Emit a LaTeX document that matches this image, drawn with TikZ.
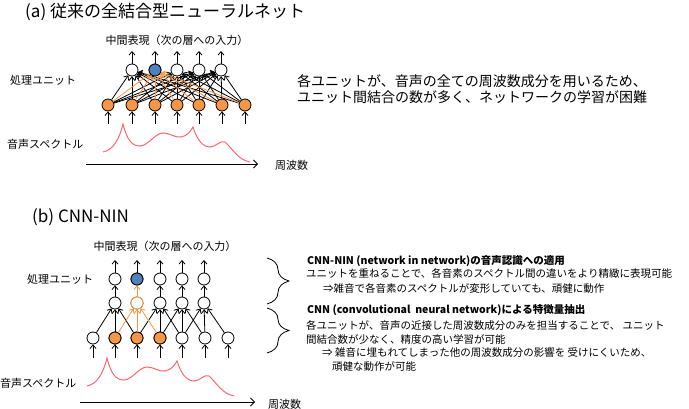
\documentclass[tikz,border=0pt]{standalone}
\usepackage{fontspec}
\setmainfont{Noto Sans CJK JP}
\usetikzlibrary{arrows.meta,decorations.pathreplacing}

\definecolor{unitorange}{HTML}{F79646}
\definecolor{unitblue}{HTML}{4F81BD}
\definecolor{specred}{HTML}{FF6670}

\tikzset{
    unit/.style={circle,draw=black,fill=white,line width=0.8pt,minimum size=12pt,inner sep=0pt},
    inunit/.style={unit,fill=unitorange},
    outunit/.style={unit,fill=unitblue},
    link/.style={-{Straight Barb[length=3.5pt,width=6pt]},line width=0.8pt},
    hot/.style={link,draw=unitorange},
    spec/.style={draw=specred,line width=1pt},
    lbl/.style={inner sep=0pt,font=\fontsize{11}{13}\selectfont},
    note/.style={inner sep=0pt,anchor=west,font=\fontsize{10.5}{12}\selectfont},
    heading/.style={inner sep=0pt,anchor=west,font=\fontsize{17}{20}\selectfont},
}

\begin{document}
\begin{tikzpicture}[x=1pt,y=-1pt]
    \useasboundingbox (0,0) rectangle (689,409);

    % (a) fully connected network
    \node[heading] (titlea) at (25,12) {(a) 従来の全結合型ニューラルネット};
    \node[lbl] (outa) at (177,40) {中間表現（次の層への入力）};
    \node[lbl,anchor=west] (procunita) at (10,80) {処理ユニット};
    \node[lbl,anchor=west] (speca) at (7,144) {音声スペクトル};

    \foreach \i/\x in {1/108,2/132,3/155,4/177,5/199,6/222,7/245} {
        \node[inunit] (ai\i) at (\x,105) {};
        \coordinate (ab\i) at (\x,124);
        \draw[link] (ab\i) -- (ai\i);
    }
    \foreach \i/\x in {1/132,2/155,3/177,4/199,5/221} {
        \node[unit] (at\i) at (\x,70) {};
        \coordinate (ao\i) at (\x,51);
        \draw[link] (at\i) -- (ao\i);
    }
    \node[outunit] at (at2) {};

    \foreach \i in {1,...,7}
        \foreach \j in {1,3,4,5}
            \draw[link] (ai\i) -- (at\j);
    \foreach \i in {1,...,7}
        \draw[hot] (ai\i) -- (at2);

    \draw[spec] (103,152) .. controls (113,150) and (119,140) .. (123,124)
        .. controls (127,140) and (132,146) .. (140,146)
        .. controls (148,146) and (155,133) .. (163,133)
        .. controls (170,133) and (175,138) .. (181,137)
        .. controls (187,136) and (190,132) .. (193,127)
        .. controls (197,140) and (203,147) .. (210,147)
        .. controls (216,147) and (220,140) .. (225,142)
        .. controls (232,148) and (238,160) .. (250,162);

    \coordinate (axa0) at (86,164);
    \node[lbl,anchor=west] (freqa) at (275,165) {周波数};
    \draw[-{Straight Barb[length=4pt,width=8pt]},line width=0.8pt] (axa0) -- (258,164);

    \node[anchor=west,inner sep=0pt,align=left,font=\fontsize{14}{16}\selectfont] (notea) at (297,89)
        {各ユニットが、音声の全ての周波数成分を用いるため、\\ユニット間結合の数が多く、ネットワークの学習が困難};

    % (b) CNN-NIN
    \node[heading] (titleb) at (32,217) {(b) CNN-NIN};
    \node[lbl] (outb) at (165,246) {中間表現（次の層への入力）};
    \node[lbl,anchor=west] (procunitb) at (27,279) {処理ユニット};
    \node[lbl,anchor=west] (specb) at (0,383) {音声スペクトル};

    \foreach \i/\x in {1/93,2/115,3/137,4/160,5/182,6/205,7/228} {
        \node[unit] (bi\i) at (\x,338) {};
        \coordinate (bb\i) at (\x,358);
        \draw[link] (bb\i) -- (bi\i);
    }
    \foreach \i in {2,3,4}
        \node[inunit] at (bi\i) {};
    \foreach \i/\x in {1/115,2/137,3/160,4/182,5/204} {
        \node[unit] (bm\i) at (\x,303) {};
        \node[unit] (bt\i) at (\x,279) {};
        \coordinate (bo\i) at (\x,260);
        \draw[link] (bt\i) -- (bo\i);
    }
    \node[unit,draw=unitorange] at (bm2) {};
    \node[outunit] at (bt2) {};

    \foreach \j in {1,3,4,5} {
        \draw[link] (bm\j) -- (bt\j);
        \foreach \k in {0,1,2} {
            \pgfmathtruncatemacro\b{\j+\k}
            \draw[link] (bi\b) -- (bm\j);
        }
    }
    \draw[hot] (bm2) -- (bt2);
    \draw[hot] (bi2) -- (bm2);
    \draw[hot] (bi3) -- (bm2);
    \draw[hot] (bi4) -- (bm2);

    \begin{scope}[shift={(-16,234)}]
        \draw[spec] (103,152) .. controls (113,150) and (119,140) .. (123,124)
            .. controls (127,140) and (132,146) .. (140,146)
            .. controls (148,146) and (155,133) .. (163,133)
            .. controls (170,133) and (175,138) .. (181,137)
            .. controls (187,136) and (190,132) .. (193,127)
            .. controls (197,140) and (203,147) .. (210,147)
            .. controls (216,147) and (220,140) .. (225,142)
            .. controls (232,148) and (238,160) .. (250,162);
    \end{scope}

    \coordinate (axb0) at (80,402);
    \node[lbl,anchor=west] (freqb) at (268,404) {周波数};
    \draw[-{Straight Barb[length=4pt,width=8pt]},line width=0.8pt] (axb0) -- (255,402);

    % braces
    \draw[decorate,decoration={brace,amplitude=22pt},line width=0.8pt] (267,258) -- (267,304);
    \draw[decorate,decoration={brace,amplitude=22pt},line width=0.8pt] (267,308) -- (267,353);

    \node[note,font=\fontsize{10.5}{12}\selectfont\bfseries] (ninhead) at (307,261) {CNN-NIN (network in network)の音声認識への適用};
    \node[note] (nin1) at (306,274) {ユニットを重ねることで、各音素のスペクトル間の違いをより精緻に表現可能};
    \node[note] (nin2) at (323,288) {⇒雑音で各音素のスペクトルが変形していても、頑健に動作};
    \node[note,font=\fontsize{10.5}{12}\selectfont\bfseries] (cnnhead) at (307,310) {CNN (convolutional\ \ neural network)による特徴量抽出};
    \node[note] (cnn1) at (306,326) {各ユニットが、音声の近接した周波数成分のみを担当することで、 ユニット};
    \node[note] (cnn2) at (306,339) {間結合数が少なく、精度の高い学習が可能};
    \node[note] (cnn3) at (322,353) {⇒ 雑音に埋もれてしまった他の周波数成分の影響を 受けにくいため、};
    \node[note] (cnn4) at (332,367) {頑健な動作が可能};
\end{tikzpicture}
\end{document}
